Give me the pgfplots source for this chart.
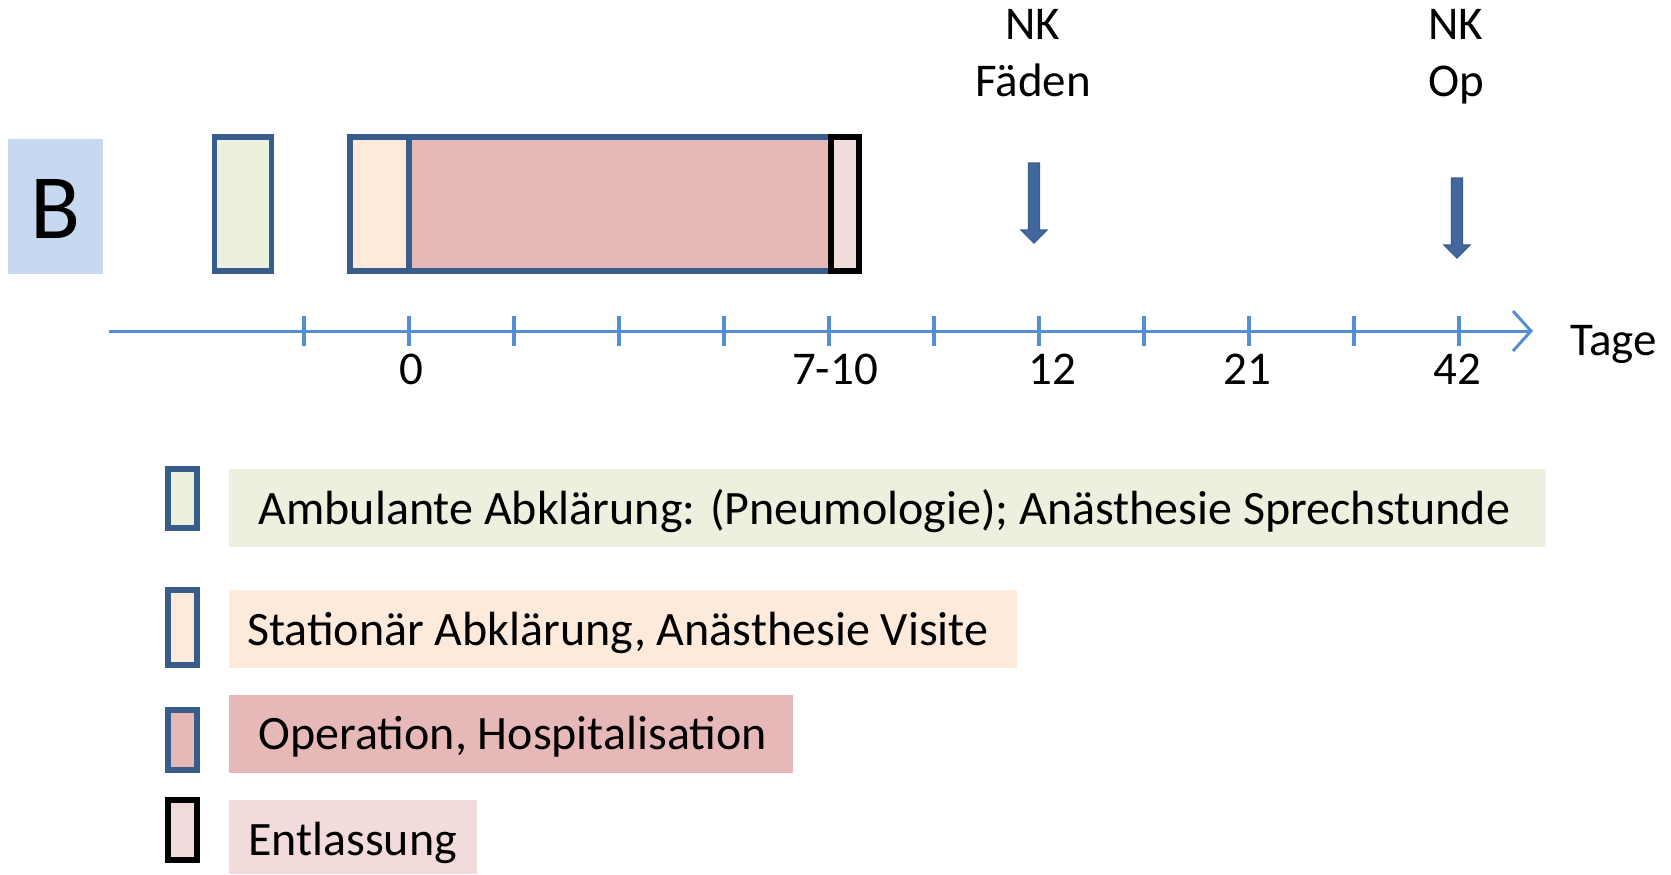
\documentclass[border=0pt]{standalone}
\usepackage{fontspec}
\setmainfont{Carlito}
\usepackage{pgfplots}
\pgfplotsset{compat=1.18}
\usetikzlibrary{arrows.meta}
\definecolor{bbox}{HTML}{C6D9F1}
\definecolor{cgreen}{HTML}{EBF1DE}
\definecolor{cpeach}{HTML}{FDEADA}
\definecolor{cpink}{HTML}{E6B9B8}
\definecolor{clpink}{HTML}{F2DCDB}
\definecolor{outl}{HTML}{385D8A}
\definecolor{axblue}{HTML}{558ED5}
\definecolor{arrblue}{HTML}{41679C}
\begin{document}
\begin{tikzpicture}
\begin{axis}[width=835.5pt, height=437pt, scale only axis,
  xmin=0, xmax=1671, ymin=0, ymax=874, y dir=reverse,
  hide axis, clip=false,
  every node/.style={inner sep=0pt, text=black}]
\addplot[draw=none] coordinates {(0,0) (1671,874)};
% B label box
\addplot[fill=bbox, draw=none] coordinates {(8,139) (103,139) (103,274) (8,274)} -- cycle;
\node[anchor=base, font=\fontsize{46}{50}\selectfont] at (axis cs:56,238) {B};
% timeline boxes
\addplot[fill=cgreen, draw=outl, line width=2.8pt, line join=miter] coordinates {(214.5,137) (271.5,137) (271.5,271) (214.5,271)} -- cycle;
\addplot[fill=cpeach, draw=outl, line width=2.8pt, line join=miter] coordinates {(350,137) (409,137) (409,271) (350,271)} -- cycle;
\addplot[fill=cpink, draw=outl, line width=2.8pt, line join=miter] coordinates {(409,137) (831,137) (831,271) (409,271)} -- cycle;
\addplot[fill=clpink, draw=black, line width=2.8pt, line join=miter] coordinates {(831,137) (859,137) (859,271) (831,271)} -- cycle;
% axis line
\addplot[color=axblue, line width=1.5pt, -{Straight Barb[length=9pt,width=20pt]}] coordinates {(109,331) (1533,331)};
\addplot[only marks, mark=|, mark size=7.5pt, mark options={line width=1.8pt, draw=axblue}] coordinates {
(304,331) (409,331) (514,331) (619,331) (724,331) (829,331) (934,331) (1039,331) (1144,331) (1249,331) (1354,331) (1459,331)};
\begin{scope}[font=\fontsize{23.5}{27}\selectfont]
\node[anchor=base] at (axis cs:411,384) {0};
\node[anchor=base] at (axis cs:835,384) {7-10};
\node[anchor=base] at (axis cs:1052,384) {12};
\node[anchor=base] at (axis cs:1247.5,384) {21};
\node[anchor=base] at (axis cs:1457,384) {42};
\node[anchor=base east] at (axis cs:1664,355) {Tage};
\node[anchor=base] at (axis cs:1033,39) {NK};
\node[anchor=base] at (axis cs:1033,96.7) {Fäden};
\node[anchor=base] at (axis cs:1456,39) {NK};
\node[anchor=base] at (axis cs:1456,96.7) {Op};
\end{scope}
% down arrows
\addplot[fill=arrblue, draw=outl, line width=0.6pt, line join=miter] coordinates {(1028.5,163) (1039.5,163) (1039.5,230) (1047,230) (1034,243) (1021,230) (1028.5,230)} -- cycle;
\addplot[fill=arrblue, draw=outl, line width=0.6pt, line join=miter] coordinates {(1451.5,178) (1462.5,178) (1462.5,245) (1470,245) (1457,258) (1444,245) (1451.5,245)} -- cycle;
% legend
\addplot[fill=cgreen, draw=outl, line width=2.8pt, line join=miter] coordinates {(168,469) (197,469) (197,528) (168,528)} -- cycle;
\addplot[fill=cpeach, draw=outl, line width=2.8pt, line join=miter] coordinates {(168,590) (197,590) (197,665) (168,665)} -- cycle;
\addplot[fill=cpink, draw=outl, line width=2.8pt, line join=miter] coordinates {(168,710) (197,710) (197,770) (168,770)} -- cycle;
\addplot[fill=clpink, draw=black, line width=2.8pt, line join=miter] coordinates {(168,800) (197,800) (197,860) (168,860)} -- cycle;
\addplot[fill=cgreen, draw=none] coordinates {(228.5,469) (1546,469) (1546,547) (228.5,547)} -- cycle;
\addplot[fill=cpeach, draw=none] coordinates {(228.5,590) (1017,590) (1017,668) (228.5,668)} -- cycle;
\addplot[fill=cpink, draw=none] coordinates {(228.5,695) (793,695) (793,773) (228.5,773)} -- cycle;
\addplot[fill=clpink, draw=none] coordinates {(228.5,800) (477,800) (477,874) (228.5,874)} -- cycle;
\begin{scope}[font=\fontsize{24}{28}\selectfont]
\node[anchor=base west] at (axis cs:251.5,524) {Ambulante Abklärung: (Pneumologie); Anästhesie Sprechstunde};
\node[anchor=base west] at (axis cs:240,645) {Stationär Abklärung, Anästhesie Visite};
\node[anchor=base west] at (axis cs:251.5,749) {Operation, Hospitalisation};
\node[anchor=base west] at (axis cs:241,855) {Entlassung};
\end{scope}
\end{axis}
\end{tikzpicture}
\end{document}
